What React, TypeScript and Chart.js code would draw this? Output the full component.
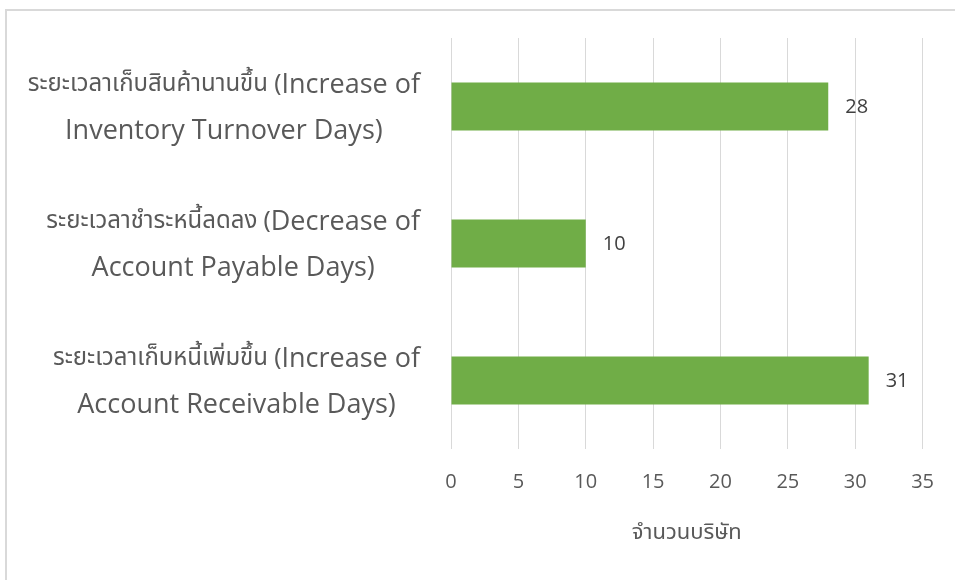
import React, { useEffect, useRef } from 'react';
import { Chart, registerables } from 'chart.js';

Chart.register(...registerables);

const thaiParts = ['ระยะเวลาเก็บสินค้านานขึ้น (', 'ระยะเวลาชำระหนี้ลดลง (', 'ระยะเวลาเก็บหนี้เพิ่มขึ้น ('];
const engLine1 = ['Increase of', 'Decrease of', 'Increase of'];
const engLine2 = ['Inventory Turnover Days)', 'Account Payable Days)', 'Account Receivable Days)'];
const categories = thaiParts.map((t, i) => t + engLine1[i] + ' ' + engLine2[i]);
const values = [28, 10, 31];
const xMin = 0;
const xMax = 35;
const xStep = 5;
const axisTitle = 'จำนวนบริษัท';

const ENG_FONT = '"Open Sans", "Noto Sans", sans-serif';
const THAI_FONT = '"Noto Sans Thai", "Noto Serif Thai", Tahoma, "Noto Sans", sans-serif';

const categoryLabelPlugin = {
  id: 'categoryLabels',
  afterDraw(chart: any) {
    const ctx = chart.ctx;
    const yScale = chart.scales.y;
    const rightEdge = 420;
    ctx.save();
    ctx.fillStyle = '#595959';
    ctx.textBaseline = 'middle';
    ctx.textAlign = 'left';
    const thaiFont = '24px ' + THAI_FONT;
    const engFont = '27px ' + ENG_FONT;
    categories.forEach((_, i) => {
      const cy = yScale.getPixelForValue(i);
      ctx.font = thaiFont;
      const wThai = ctx.measureText(thaiParts[i]).width;
      ctx.font = engFont;
      const wE1 = ctx.measureText(engLine1[i]).width;
      const wE2 = ctx.measureText(engLine2[i]).width;
      const w1 = wThai + wE1;
      const blockW = Math.max(w1, wE2);
      const centerX = rightEdge - blockW / 2;
      const y1 = cy - 21;
      const y2 = cy + 25;
      let x = centerX - w1 / 2;
      ctx.font = thaiFont;
      ctx.fillText(thaiParts[i], x, y1 + 1);
      x += wThai;
      ctx.font = engFont;
      ctx.fillText(engLine1[i], x, y1);
      ctx.fillText(engLine2[i], centerX - wE2 / 2, y2);
    });
    ctx.restore();
  },
};

const dataLabelPlugin = {
  id: 'dataLabels',
  afterDatasetsDraw(chart: any) {
    const ctx = chart.ctx;
    const meta = chart.getDatasetMeta(0);
    ctx.save();
    ctx.fillStyle = '#404040';
    ctx.font = '20px ' + ENG_FONT;
    ctx.textAlign = 'left';
    ctx.textBaseline = 'middle';
    meta.data.forEach((bar: any, i: number) => {
      ctx.fillText(String(values[i]), bar.x + 17, bar.y + 1);
    });
    ctx.restore();
  },
};

export default function App() {
  const ref = useRef<HTMLCanvasElement>(null);
  useEffect(() => {
    const canvas = ref.current!;
    const chart = new Chart(canvas, {
      type: 'bar',
      data: {
        labels: categories,
        datasets: [
          {
            data: values,
            backgroundColor: '#70AD47',
            borderWidth: 0,
            barPercentage: 0.35,
            categoryPercentage: 1,
          },
        ],
      },
      options: {
        indexAxis: 'y',
        responsive: false,
        animation: false,
        layout: { padding: { left: 443, right: 30, top: 38, bottom: 0 } },
        plugins: { legend: { display: false }, tooltip: { enabled: false } },
        scales: {
          x: {
            min: xMin,
            max: xMax,
            ticks: {
              stepSize: xStep,
              color: '#595959',
              font: { family: ENG_FONT, size: 20 },
              padding: 21,
            },
            grid: { color: '#d9d9d9', lineWidth: 1, drawTicks: false },
            border: { display: false },
            title: {
              display: true,
              text: axisTitle,
              color: '#595959',
              font: { family: THAI_FONT, size: 22 },
              padding: { top: 20, bottom: 32 },
            },
            afterFit(scale: any) {
              scale.height = 131;
            },
          },
          y: {
            ticks: { display: false },
            grid: { display: false },
            border: { display: false },
          },
        },
      },
      plugins: [categoryLabelPlugin, dataLabelPlugin],
    } as any);
    return () => chart.destroy();
  }, []);
  return (
    <div style={{ position: 'absolute', left: 0, top: 0, width: 955, height: 580, overflow: 'hidden', background: '#fff' }}>
      <canvas ref={ref} width={955} height={580} style={{ position: 'absolute', left: 0, top: 0 }} />
      <div
        style={{
          position: 'absolute',
          left: 5,
          top: 9,
          width: 1000,
          height: 1000,
          borderLeft: '2px solid #d9d9d9',
          borderTop: '2px solid #d9d9d9',
          pointerEvents: 'none',
        }}
      />
    </div>
  );
}
